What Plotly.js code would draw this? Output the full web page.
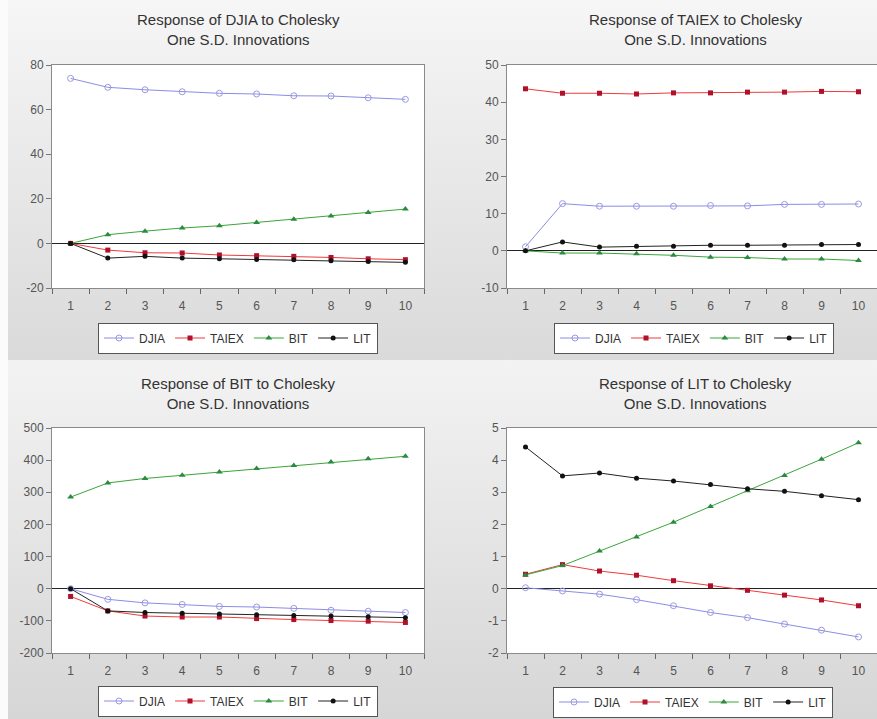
<!DOCTYPE html>
<html>
<head>
<meta charset="utf-8">
<script src="https://cdn.plot.ly/plotly-3.0.1.min.js"></script>
<style>
  html, body { margin: 0; padding: 0; }
  body {
    width: 877px; height: 719px; overflow: hidden;
    background: linear-gradient(#f6f6f6, #dadada) 0 0 / 100% 360px no-repeat,
                linear-gradient(#f3f3f3, #d6d6d6) 0 360px / 100% 359px no-repeat;
  }
  #edge { position: absolute; left: 0; top: 0; width: 8px; height: 719px; background: #fbfbfb; }
  #chart { position: absolute; left: 0; top: 0; width: 877px; height: 719px; }
</style>
</head>
<body>
<div id="edge"></div>
<div id="chart"></div>
<script>
// ---- data ----
const periods = [1, 2, 3, 4, 5, 6, 7, 8, 9, 10];
const seriesNames = ['DJIA', 'TAIEX', 'BIT', 'LIT'];

// Response of DJIA
const djiaToDjia  = [74.0, 70.0, 68.9, 68.0, 67.3, 67.0, 66.2, 66.1, 65.3, 64.6];
const djiaToTaiex = [0, -3.0, -4.2, -4.3, -5.2, -5.5, -5.8, -6.3, -6.9, -7.3];
const djiaToBit   = [0, 3.9, 5.5, 6.9, 7.9, 9.4, 10.8, 12.3, 13.9, 15.4];
const djiaToLit   = [0, -6.6, -5.8, -6.6, -6.9, -7.2, -7.3, -7.8, -8.1, -8.5];

// Response of TAIEX
const taiexToDjia  = [1.1, 12.7, 12.0, 12.0, 12.0, 12.2, 12.1, 12.5, 12.5, 12.6];
const taiexToTaiex = [43.6, 42.4, 42.4, 42.2, 42.5, 42.5, 42.7, 42.7, 42.9, 42.8];
const taiexToBit   = [0, -0.6, -0.6, -0.8, -1.2, -1.7, -1.8, -2.2, -2.2, -2.6];
const taiexToLit   = [0, 2.4, 1.0, 1.2, 1.2, 1.5, 1.5, 1.5, 1.7, 1.7];

// Response of BIT
const bitToDjia  = [0, -33, -44, -49, -55, -57, -61, -67, -70, -74];
const bitToTaiex = [-24, -69, -85, -88, -88, -93, -96, -99, -101, -105];
const bitToBit   = [285, 329, 343, 353, 363, 374, 383, 394, 404, 412];
const bitToLit   = [0, -69, -74, -76, -79, -81, -83, -85, -87, -90];

// Response of LIT
const litToDjia  = [0.03, -0.07, -0.17, -0.34, -0.53, -0.74, -0.90, -1.10, -1.29, -1.50];
const litToTaiex = [0.45, 0.75, 0.55, 0.42, 0.25, 0.09, -0.05, -0.20, -0.35, -0.53];
const litToBit   = [0.43, 0.72, 1.17, 1.61, 2.07, 2.56, 3.05, 3.52, 4.03, 4.54];
const litToLit   = [4.41, 3.51, 3.60, 3.44, 3.35, 3.24, 3.11, 3.03, 2.89, 2.77];

const panelTitles = [
  'Response of DJIA to Cholesky<br>One S.D. Innovations',
  'Response of TAIEX to Cholesky<br>One S.D. Innovations',
  'Response of BIT to Cholesky<br>One S.D. Innovations',
  'Response of LIT to Cholesky<br>One S.D. Innovations'
];
const yTicks1 = [-20, 0, 20, 40, 60, 80];
const yTicks2 = [-10, 0, 10, 20, 30, 40, 50];
const yTicks3 = [-200, -100, 0, 100, 200, 300, 400, 500];
const yTicks4 = [-2, -1, 0, 1, 2, 3, 4, 5];

// ---- styles ----
const styles = [
  {line: {color: '#8c8ce6', width: 1}, marker: {symbol: 'circle-open', size: 6, color: '#9a9ae0', line: {width: 1}}},
  {line: {color: '#f03a3a', width: 1}, marker: {symbol: 'square', size: 5, color: '#b0102a'}},
  {line: {color: '#3aa53a', width: 1}, marker: {symbol: 'triangle-up', size: 6, color: '#2a8a40'}},
  {line: {color: '#222222', width: 1}, marker: {symbol: 'circle', size: 5, color: '#111111'}}
];

const panels = [
  [djiaToDjia, djiaToTaiex, djiaToBit, djiaToLit],
  [taiexToDjia, taiexToTaiex, taiexToBit, taiexToLit],
  [bitToDjia, bitToTaiex, bitToBit, bitToLit],
  [litToDjia, litToTaiex, litToBit, litToLit]
];

const traces = [];
panels.forEach((panel, p) => {
  const sfx = p === 0 ? '' : String(p + 1);
  panel.forEach((vals, s) => {
    traces.push({
      x: periods, y: vals, type: 'scatter', mode: 'lines+markers',
      name: seriesNames[s],
      xaxis: 'x' + sfx, yaxis: 'y' + sfx,
      legend: 'legend' + sfx,
      line: styles[s].line, marker: styles[s].marker,
      showlegend: true
    });
  });
});

const W = 877, H = 719;
const xDomL = [52 / W, 424 / W];
const xDomR = [507 / W, 1.0];
const yDomT = [1 - 288 / H, 1 - 65 / H];
const yDomB = [1 - 653 / H, 1 - 428 / H];

const tickFont = {family: 'Liberation Sans, Arial, sans-serif', size: 12, color: '#555555'};
const halfTicks = [0.5].concat(periods.map(v => v + 0.5));

function xAxis(domain, anchor) {
  return {
    domain: domain, anchor: anchor, range: [0.5, 10.5],
    tickmode: 'array', tickvals: periods, ticktext: periods.map(String),
    ticks: '', showgrid: false, zeroline: false,
    showline: true, mirror: true, linecolor: '#8a8a8a', linewidth: 1,
    tickfont: tickFont, ticklabelstandoff: 7,
    minor: {tickmode: 'array', tickvals: halfTicks, ticks: 'outside', ticklen: 5, tickcolor: '#666666', showgrid: false},
    fixedrange: true
  };
}
function yAxis(domain, anchor, ticks) {
  return {
    domain: domain, anchor: anchor, range: [ticks[0], ticks[ticks.length - 1]],
    tickmode: 'array', tickvals: ticks, ticktext: ticks.map(String),
    ticks: 'outside', ticklen: 5, tickcolor: '#777777',
    showgrid: false, zeroline: true, zerolinecolor: '#222222', zerolinewidth: 1,
    showline: true, mirror: true, linecolor: '#8a8a8a', linewidth: 1,
    tickfont: tickFont, fixedrange: true
  };
}
function legendAt(x, yPix) {
  return {
    orientation: 'h', x: x, y: 1 - yPix / H, xanchor: 'center', yanchor: 'middle',
    bgcolor: '#ffffff', bordercolor: '#555555', borderwidth: 1,
    font: {family: 'Liberation Sans, Arial, sans-serif', size: 12, color: '#333333'},
    itemwidth: 30, tracegroupgap: 0
  };
}
const titleFont = {family: 'Liberation Sans, Arial, sans-serif', size: 15, color: '#333333'};
function titleAnn(text, xPix) {
  return {text: text, x: xPix / W, y: 1 - 30 / H, xref: 'paper', yref: 'paper',
          xanchor: 'center', yanchor: 'middle', showarrow: false, font: titleFont};
}

const layout = {
  width: W, height: H,
  margin: {l: 0, r: 0, t: 0, b: 0},
  paper_bgcolor: 'rgba(0,0,0,0)', plot_bgcolor: '#ffffff',
  xaxis: xAxis(xDomL, 'y'), yaxis: yAxis(yDomT, 'x', yTicks1),
  xaxis2: xAxis(xDomR, 'y2'), yaxis2: yAxis(yDomT, 'x2', yTicks2),
  xaxis3: xAxis(xDomL, 'y3'), yaxis3: yAxis(yDomB, 'x3', yTicks3),
  xaxis4: xAxis(xDomR, 'y4'), yaxis4: yAxis(yDomB, 'x4', yTicks4),
  legend: legendAt(238 / W, 338),
  legend2: legendAt(694 / W, 338),
  legend3: legendAt(238 / W, 701),
  legend4: legendAt(693 / W, 702),
  annotations: [
    titleAnn(panelTitles[0], 238),
    titleAnn(panelTitles[1], 695),
    Object.assign(titleAnn(panelTitles[2], 238), {y: 1 - 393 / H}),
    Object.assign(titleAnn(panelTitles[3], 695), {y: 1 - 393 / H})
  ],
  showlegend: true
};

Plotly.newPlot('chart', traces, layout, {displayModeBar: false, staticPlot: true});
</script>
</body>
</html>
